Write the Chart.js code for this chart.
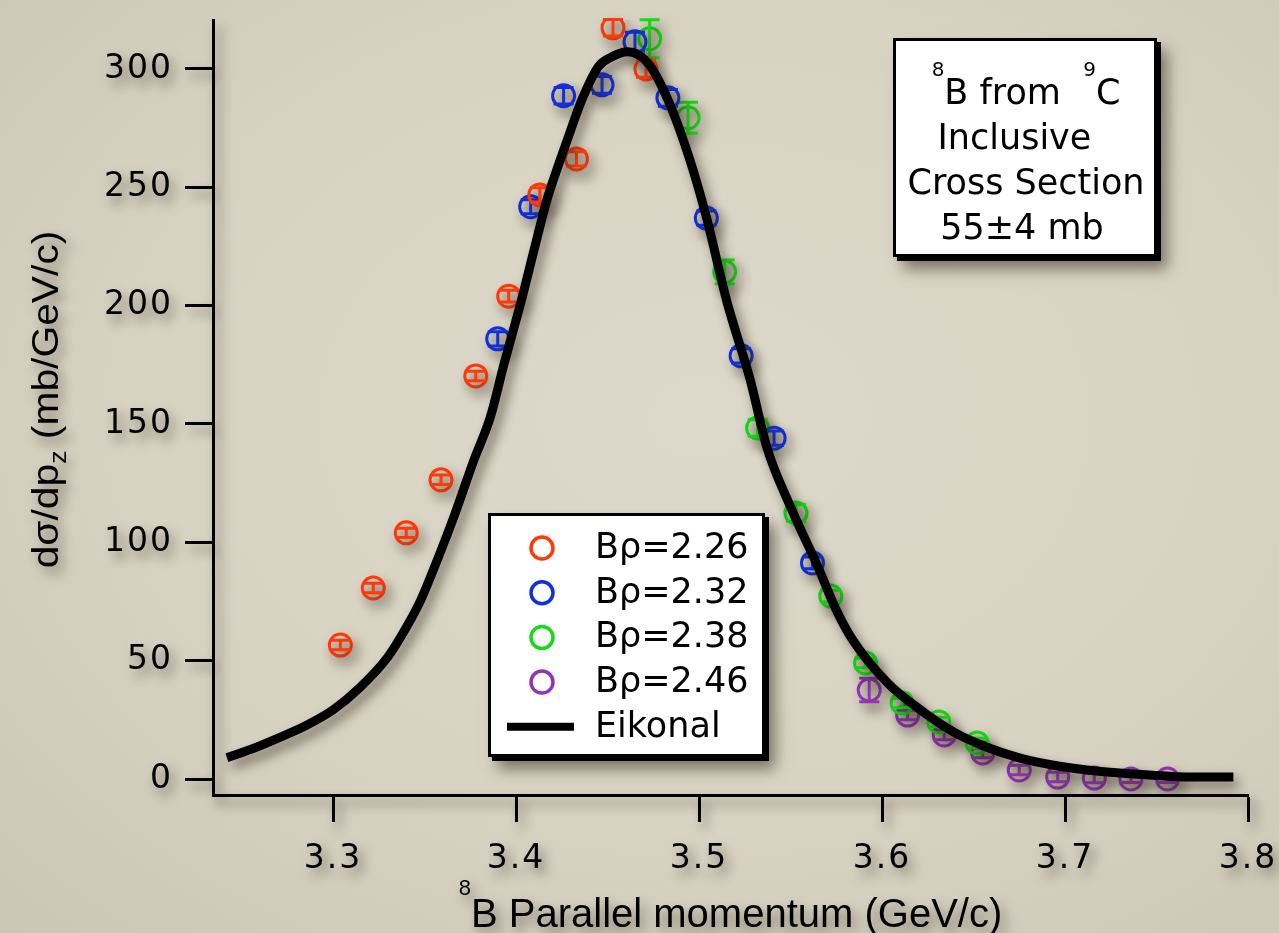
<!DOCTYPE html>
<html lang="en">
<head>
  <meta charset="UTF-8" />
  <title>8B from 9C parallel momentum</title>
  <script src="https://cdn.jsdelivr.net/npm/chart.js"></script>
  <style>
    html, body { margin: 0; padding: 0; }
    body {
      width: 1279px;
      height: 933px;
      overflow: hidden;
      background: radial-gradient(ellipse at 55% 45%, #ddd9ca 0%, #d8d3c3 55%, #ccc6b4 100%);
    }
    #momChart { display: block; }
  </style>
</head>
<body>
  <canvas id="momChart" width="1279" height="933"></canvas>

  <script>
    // tick labels
    const xTicks = [3.3, 3.4, 3.5, 3.6, 3.7, 3.8];
    const yTicks = [0, 50, 100, 150, 200, 250, 300];

    // B-rho = 2.26
    const red_p   = [3.304, 3.322, 3.340, 3.359, 3.378, 3.396, 3.413, 3.433, 3.453, 3.471];
    const red_y   = [56.6, 80.7, 104, 126.4, 170.3, 204, 246.8, 262, 317.4, 300];
    const red_err = [2, 2, 2, 2, 2, 2.5, 3, 3, 3.5, 3.5];

    // B-rho = 2.32
    const blue_p   = [3.390, 3.408, 3.426, 3.447, 3.465, 3.483, 3.504, 3.523, 3.541, 3.562];
    const blue_y   = [186, 241.8, 288.7, 293.3, 311.5, 287.8, 237, 178.8, 144, 91.3];
    const blue_err = [3, 3, 3.5, 3.5, 4, 3.5, 3, 3, 3, 2.5];

    // B-rho = 2.38
    const green_p   = [3.473, 3.494, 3.514, 3.532, 3.553, 3.572, 3.591, 3.611, 3.631, 3.652];
    const green_y   = [312.8, 279.4, 214.3, 148.3, 112.4, 77.3, 49, 32.1, 24.1, 15.2];
    const green_err = [8, 6.5, 5, 3.5, 3.5, 2.5, 2, 2, 2, 2];

    // B-rho = 2.46
    const purple_p   = [3.593, 3.614, 3.634, 3.655, 3.675, 3.696, 3.716, 3.736, 3.756];
    const purple_y   = [37.6, 27, 18.6, 11, 3.8, 0.8, 0.4, 0, 0];
    const purple_err = [5, 2, 2, 2, 2, 2, 2, 1.5, 1.5];

    // Eikonal calculation
    const eik_p = [3.242, 3.255, 3.270, 3.285, 3.300, 3.315, 3.330, 3.340, 3.348, 3.357,
                   3.366, 3.377, 3.386, 3.393, 3.403, 3.410, 3.417, 3.423, 3.428, 3.436,
                   3.445, 3.452, 3.461, 3.472, 3.483, 3.495, 3.504, 3.515, 3.528, 3.537,
                   3.550, 3.565, 3.575, 3.584, 3.603, 3.621, 3.639, 3.657, 3.675, 3.693,
                   3.712, 3.730, 3.750, 3.767, 3.792];
    const eik_y = [9, 12.5, 17.3, 22.5, 29.2, 38.9, 51.6, 64, 75.7, 92.6,
                   110.7, 134.8, 153, 174, 202.4, 224, 245, 259, 270, 287,
                   301, 305, 307.3, 302.6, 287, 261.6, 237.5, 202.4, 168.6, 140.3,
                   115, 89.6, 71.4, 58.7, 40.6, 29.2, 19.9, 13.5, 8.9, 5.9,
                   3.8, 2.5, 1.5, 0.8, 0.8];

    const pts = (xs, ys) => xs.map((x, i) => ({ x: x, y: ys[i] }));

    function markerSet(label, color, xs, ys, errs) {
      return {
        label: label,
        data: pts(xs, ys),
        err: errs,
        borderColor: color,
        backgroundColor: 'rgba(0,0,0,0)',
        pointStyle: 'circle',
        pointRadius: 11,
        pointHoverRadius: 11,
        pointBorderWidth: 3,
        showLine: false
      };
    }

    const SHADOW = 'rgba(45,35,20,0.55)';
    function setShadow(ctx, blur, dx, dy) {
      ctx.shadowColor = SHADOW;
      ctx.shadowBlur = blur;
      ctx.shadowOffsetX = dx;
      ctx.shadowOffsetY = dy;
    }
    function noShadow(ctx) {
      ctx.shadowColor = 'rgba(0,0,0,0)';
      ctx.shadowBlur = 0;
      ctx.shadowOffsetX = 0;
      ctx.shadowOffsetY = 0;
    }

    function framedBox(ctx, x, y, w, h) {
      ctx.save();
      setShadow(ctx, 14, 6, 8);
      ctx.fillStyle = '#000';
      ctx.fillRect(x + 4, y + 4, w, h);
      noShadow(ctx);
      ctx.fillStyle = '#fff';
      ctx.fillRect(x, y, w, h);
      ctx.lineWidth = 3;
      ctx.strokeStyle = '#000';
      ctx.strokeRect(x + 1.5, y + 1.5, w - 3, h - 3);
      ctx.restore();
    }

    // text runs: [text, font, baseline shift]
    function runWidth(ctx, parts) {
      let w = 0;
      parts.forEach(p => { ctx.font = p[1]; w += ctx.measureText(p[0]).width; });
      return w;
    }
    function drawRun(ctx, parts, x, y) {
      parts.forEach(p => {
        ctx.font = p[1];
        ctx.fillText(p[0], x, y + p[2]);
        x += ctx.measureText(p[0]).width;
      });
    }

    const shadowPlugin = {
      id: 'shadows',
      beforeDraw(chart) {
        setShadow(chart.ctx, 12, 5, 7);
        chart.ctx.letterSpacing = '2px';
      },
      afterDraw(chart) {
        noShadow(chart.ctx);
        chart.ctx.letterSpacing = '0px';
      }
    };

    const errorBars = {
      id: 'errorBars',
      afterDatasetDraw(chart, args) {
        const ds = chart.data.datasets[args.index];
        if (!ds.err) return;
        const ctx = chart.ctx;
        const xs = chart.scales.x, ys = chart.scales.y;
        ctx.save();
        ctx.strokeStyle = ds.borderColor;
        ctx.lineWidth = 3;
        ds.data.forEach((d, i) => {
          const px = xs.getPixelForValue(d.x);
          const top = ys.getPixelForValue(d.y + ds.err[i]);
          const bot = ys.getPixelForValue(d.y - ds.err[i]);
          ctx.beginPath();
          ctx.moveTo(px, top); ctx.lineTo(px, bot);
          ctx.moveTo(px - 10, top); ctx.lineTo(px + 10, top);
          ctx.moveTo(px - 10, bot); ctx.lineTo(px + 10, bot);
          ctx.stroke();
        });
        ctx.restore();
      }
    };

    const decorations = {
      id: 'decorations',
      afterDraw(chart) {
        const ctx = chart.ctx;
        const area = chart.chartArea;
        ctx.save();
        ctx.fillStyle = '#000';
        ctx.textBaseline = 'alphabetic';
        ctx.textAlign = 'left';

        // axis titles
        setShadow(ctx, 12, 5, 7);
        const xt = [['8', '22px "Liberation Sans"', -32], ['B Parallel momentum (GeV/c)', '40px "Liberation Sans"', 0]];
        const xcx = (area.left + area.right) / 2;
        drawRun(ctx, xt, xcx - runWidth(ctx, xt) / 2, 927);

        const yt = [['d\u03c3/dp', '40px "Liberation Sans"', 0], ['z', '26px "Liberation Sans"', 8], [' (mb/GeV/c)', '40px "Liberation Sans"', 0]];
        ctx.save();
        ctx.translate(58, (area.top + area.bottom) / 2 - 8);
        ctx.rotate(-Math.PI / 2);
        ctx.scale(1.02, 0.94);
        drawRun(ctx, yt, -runWidth(ctx, yt) / 2, 0);
        ctx.restore();

        // legend
        framedBox(ctx, 488, 513, 277, 244);
        noShadow(ctx);
        ctx.textBaseline = 'middle';
        ctx.font = '35px "DejaVu Sans"';
        chart.data.datasets.forEach((ds, i) => {
          const ly = 548 + i * 44.7;
          ctx.strokeStyle = ds.borderColor;
          if (ds.err) {
            ctx.lineWidth = 3.5;
            ctx.beginPath();
            ctx.arc(542, ly, 11, 0, Math.PI * 2);
            ctx.stroke();
          } else {
            ctx.lineWidth = 8;
            ctx.beginPath();
            ctx.moveTo(507, ly); ctx.lineTo(574, ly);
            ctx.stroke();
          }
          ctx.fillStyle = '#000';
          ctx.fillText(ds.label, 595, ly + 1);
        });

        // info box
        framedBox(ctx, 893, 38, 264, 219);
        noShadow(ctx);
        ctx.textBaseline = 'alphabetic';
        ctx.fillStyle = '#000';
        const big = '35px "DejaVu Sans"', small = '20px "DejaVu Sans"';
        const l1 = [['8', small, -28], ['B from  ', big, 0], ['9', small, -28], ['C', big, 0]];
        const bcx = 1026;
        drawRun(ctx, l1, bcx - runWidth(ctx, l1) / 2, 104);
        ctx.textAlign = 'center';
        ctx.font = big;
        ctx.fillText('Inclusive ', bcx - 6, 149);
        ctx.fillText('Cross Section', bcx, 194);
        ctx.fillText('55\u00b14 mb', bcx - 4, 239);
        ctx.restore();
      }
    };

    Chart.defaults.font.family = '"DejaVu Sans"';
    Chart.defaults.color = '#000';

    const ctx = document.getElementById('momChart').getContext('2d');
    new Chart(ctx, {
      type: 'scatter',
      data: {
        datasets: [
          markerSet('B\u03c1=2.26', '#ff3a0a', red_p, red_y, red_err),
          markerSet('B\u03c1=2.32', '#1030e0', blue_p, blue_y, blue_err),
          markerSet('B\u03c1=2.38', '#12dd12', green_p, green_y, green_err),
          markerSet('B\u03c1=2.46', '#9433b8', purple_p, purple_y, purple_err),
          {
            type: 'line',
            label: 'Eikonal',
            data: pts(eik_p, eik_y),
            borderColor: '#000',
            borderWidth: 9,
            pointRadius: 0,
            showLine: true,
            cubicInterpolationMode: 'monotone',
            borderJoinStyle: 'round',
            order: -1
          }
        ]
      },
      options: {
        responsive: false,
        animation: false,
        events: [],
        layout: { padding: { left: 0, top: 20, right: 31, bottom: 0 } },
        plugins: {
          legend: { display: false },
          tooltip: { enabled: false }
        },
        scales: {
          x: {
            type: 'linear',
            min: 3.2344,
            max: 3.8,
            border: { display: true, color: '#000', width: 3 },
            grid: { drawOnChartArea: false, drawTicks: true, tickLength: 27, tickWidth: 3, tickColor: '#000' },
            ticks: { font: { size: 33 }, padding: 18, callback: v => v.toFixed(1) },
            afterBuildTicks: s => { s.ticks = xTicks.map(v => ({ value: v })); },
            afterFit: s => { s.height = 138; s.paddingLeft = 0; s.paddingRight = 0; }
          },
          y: {
            type: 'linear',
            min: -6.76,
            max: 320.7,
            border: { display: true, color: '#000', width: 3 },
            grid: { drawOnChartArea: false, drawTicks: true, tickLength: 28, tickWidth: 3, tickColor: '#000' },
            ticks: { font: { size: 33 }, padding: 12, callback: v => String(v) },
            afterBuildTicks: s => { s.ticks = yTicks.map(v => ({ value: v })); },
            afterFit: s => { s.width = 213; s.paddingTop = 0; s.paddingBottom = 0; }
          }
        }
      },
      plugins: [shadowPlugin, errorBars, decorations]
    });
  </script>
</body>
</html>
